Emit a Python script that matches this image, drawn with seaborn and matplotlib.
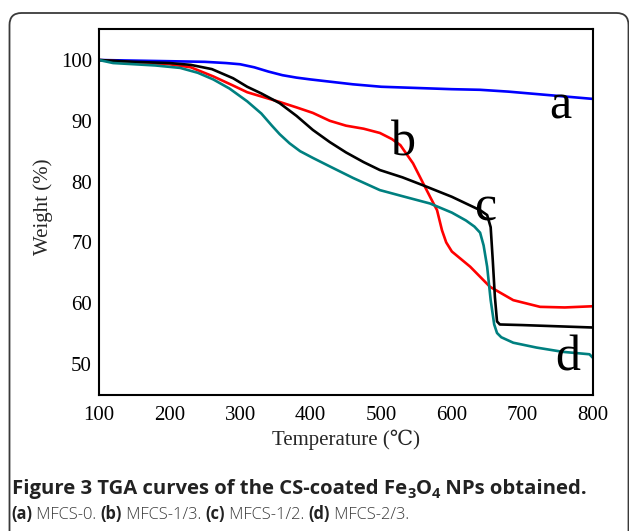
import numpy as np
import pandas as pd
import matplotlib
matplotlib.use("Agg")
import matplotlib.pyplot as plt
from matplotlib.patches import FancyBboxPatch
from matplotlib.ticker import MultipleLocator
import seaborn as sns

# ---- data ----
temp_a = [100, 150, 200, 250, 280, 300, 320, 340, 360, 380, 400, 430, 460, 500, 550, 600, 640, 680, 720, 760, 800]
wt_a = [100, 99.9, 99.8, 99.7, 99.5, 99.3, 98.8, 98.1, 97.5, 97.1, 96.8, 96.4, 96.0, 95.6, 95.4, 95.2, 95.1, 94.8, 94.4, 94.0, 93.6]

temp_b = [100, 150, 200, 230, 262, 290, 310, 330, 356, 380, 403, 427, 450, 475, 498, 515, 527, 545, 559, 570, 579, 586, 592, 600, 626, 654, 687, 725, 760, 800]
wt_b = [100, 99.6, 99.3, 98.8, 97.3, 95.8, 94.7, 94.0, 93.1, 92.2, 91.3, 90.0, 89.2, 88.7, 88.0, 87.0, 86.0, 83.0, 79.8, 77.3, 75.3, 72.0, 70.0, 68.5, 66.0, 62.7, 60.5, 59.4, 59.3, 59.5]

temp_c = [100, 150, 200, 230, 260, 290, 310, 330, 356, 380, 403, 427, 450, 475, 498, 530, 559, 600, 640, 650, 655, 658, 661, 664, 668, 700, 750, 800]
wt_c = [100, 99.7, 99.5, 99.2, 98.5, 97.0, 95.6, 94.5, 92.9, 90.8, 88.5, 86.5, 84.8, 83.2, 81.9, 80.7, 79.4, 77.5, 75.3, 74.5, 72.5, 67.0, 61.0, 57.0, 56.5, 56.4, 56.2, 56.0]

temp_d = [100, 120, 150, 180, 215, 240, 262, 285, 310, 330, 345, 356, 370, 385, 403, 427, 460, 498, 530, 569, 600, 620, 632, 640, 645, 650, 655, 660, 664, 670, 687, 720, 757, 795, 800]
wt_d = [100, 99.5, 99.3, 99.1, 98.7, 97.9, 96.8, 95.3, 93.2, 91.2, 89.2, 87.8, 86.3, 85.0, 83.9, 82.5, 80.6, 78.6, 77.6, 76.4, 74.9, 73.6, 72.6, 71.6, 69.5, 66.0, 60.5, 56.5, 55.1, 54.4, 53.5, 52.7, 52.0, 51.6, 51.0]

series_names = ["a", "b", "c", "d"]
series_colors = ["#0000ff", "#ff0000", "#000000", "#008080"]
label_pos_x = [753, 531, 647, 764]
label_pos_y = [92.4, 86.3, 75.6, 51.0]

x_ticks = [100, 200, 300, 400, 500, 600, 700, 800]
y_ticks = [50, 60, 70, 80, 90, 100]

caption_line1 = [("Figure 3 TGA curves of the CS-coated Fe", "bold", 0), ("3", "bold", 1),
                 ("O", "bold", 0), ("4", "bold", 1), (" NPs obtained.", "bold", 0)]
caption_line2 = [("(a)", "bold", 0), (" MFCS-0. ", "light", 0), ("(b)", "bold", 0),
                 (" MFCS-1/3. ", "light", 0), ("(c)", "bold", 0), (" MFCS-1/2. ", "light", 0),
                 ("(d)", "bold", 0), (" MFCS-2/3.", "light", 0)]

frames = []
for name, t, w in zip(series_names, [temp_a, temp_b, temp_c, temp_d], [wt_a, wt_b, wt_c, wt_d]):
    frames.append(pd.DataFrame({"Temperature": t, "Weight": w, "sample": name}))
df = pd.concat(frames, ignore_index=True)

# ---- figure ----
sns.set_style("white")
SERIF = ["Liberation Serif", "DejaVu Serif", "DejaVu Sans"]
plt.rcParams["font.family"] = SERIF

W, H = 629, 531
fig = plt.figure(figsize=(W / 100, H / 100), dpi=100)
fig.patch.set_facecolor("white")

ax = fig.add_axes([99 / W, 1 - 395 / H, 494 / W, 366 / H])

sns.lineplot(data=df, x="Temperature", y="Weight", hue="sample", palette=series_colors,
             hue_order=series_names, sort=False, estimator=None, linewidth=1.9,
             legend=False, ax=ax)

ax.set_xlim(100, 800)
ax.set_ylim(44.9, 105.1)
ax.set_xticks(x_ticks, labels=[str(v) for v in x_ticks], fontfamily=SERIF, fontsize=15)
ax.set_yticks(y_ticks, labels=[str(v) for v in y_ticks], fontfamily=SERIF, fontsize=15)
ax.xaxis.set_minor_locator(MultipleLocator(50))
ax.yaxis.set_minor_locator(MultipleLocator(5))
ax.tick_params(which="both", direction="in", top=False, right=False, width=1.1, colors="black")
ax.tick_params(axis="x", which="major", pad=8)
ax.tick_params(axis="y", which="major", pad=5)
ax.tick_params(which="major", length=5)
ax.tick_params(which="minor", length=3)
for s in ax.spines.values():
    s.set_visible(True)
    s.set_linewidth(1.5)
    s.set_color("black")

ax.set_xlabel("Temperature (\u2103)", fontsize=15, fontfamily=SERIF)
ax.set_ylabel("Weight (%)", fontsize=15, fontfamily=SERIF)
ax.xaxis.set_label_coords(0.5, (395 - 440) / 366)
ax.xaxis.label.set_verticalalignment("center")
ax.yaxis.set_label_coords((43 - 99) / 494, 0.515)
ax.yaxis.label.set_verticalalignment("center")

for name, lx, ly in zip(series_names, label_pos_x, label_pos_y):
    ax.text(lx, ly, name, fontsize=36, ha="center", va="center", color="black", fontfamily=SERIF)

# ---- frame ----
frame = FancyBboxPatch((9.5, -20), 619, 531 - 13 + 20,
                       boxstyle="round,pad=0,rounding_size=12",
                       transform=None, fill=False, edgecolor="#3a3a3a", linewidth=1.3)
fig.patches.append(frame)

# ---- caption ----
renderer = fig.canvas.get_renderer()


def text_advance(s, size, weight):
    t1 = fig.text(0, 0, s + "|", fontsize=size, fontweight=weight, family="Open Sans")
    t2 = fig.text(0, 0, "|", fontsize=size, fontweight=weight, family="Open Sans")
    w = t1.get_window_extent(renderer).width - t2.get_window_extent(renderer).width
    t1.remove()
    t2.remove()
    return w


def draw_runs(x_px, base_px, runs, size, color_bold, color_norm):
    x = x_px
    for s, weight, sub in runs:
        fs = size * 0.72 if sub else size
        dy = -4 if sub else 0
        col = color_bold if weight == "bold" else color_norm
        fig.text(x / W, (H - base_px + dy) / H, s, fontsize=fs, fontweight=weight,
                 family="Open Sans", color=col, ha="left", va="baseline")
        x += text_advance(s, fs, weight)


draw_runs(12, 494, caption_line1, 14.6, "#222222", "#222222")
draw_runs(11, 519, caption_line2, 11.9, "#222222", "#3a3a3a")

fig.savefig("out.png", dpi=100, facecolor="white")
